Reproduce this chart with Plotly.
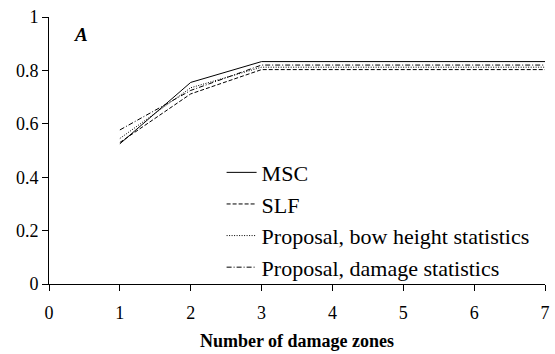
import plotly.graph_objects as go

x_zones = [1, 2, 3, 4, 5, 6, 7]
msc = [0.525, 0.755, 0.833, 0.833, 0.833, 0.833, 0.833]
slf = [0.53, 0.712, 0.803, 0.803, 0.803, 0.803, 0.803]
bow = [0.545, 0.735, 0.812, 0.812, 0.812, 0.812, 0.812]
dmg = [0.577, 0.725, 0.82, 0.82, 0.82, 0.82, 0.82]

names = ["MSC", "SLF", "Proposal, bow height statistics", "Proposal, damage statistics"]
dashes = ["solid", "4px,2px", "1px,1.5px", "5px,2px,1px,2px"]
series = [msc, slf, bow, dmg]

fig = go.Figure()
for n, d, s in zip(names, dashes, series):
    fig.add_trace(go.Scatter(x=x_zones, y=s, name=n, mode="lines",
                             line=dict(color="black", width=1, dash=d)))

font = "Liberation Serif"
fig.update_layout(
    width=555, height=354,
    margin=dict(l=49, r=5, t=17, b=70),
    paper_bgcolor="white", plot_bgcolor="white",
    font=dict(family=font, color="black", size=18),
    showlegend=True,
    legend=dict(x=0.348, y=0.496, xanchor="left", yanchor="top",
                bgcolor="rgba(0,0,0,0)", font=dict(size=22, family=font),
                tracegroupgap=0, itemwidth=30),
    annotations=[dict(x=0.45, y=0.935, xref="x", yref="y", text="<b><i>A</i></b>",
                      showarrow=False, font=dict(size=19, family=font))],
)
fig.update_xaxes(range=[0, 7], tickvals=[0, 1, 2, 3, 4, 5, 6, 7], showline=True,
                 linecolor="black", linewidth=1, ticks="outside", ticklen=6,
                 tickcolor="black", showgrid=False, zeroline=False, ticklabelstandoff=6,
                 title=dict(text="<b>Number of damage zones</b>", font=dict(size=18), standoff=12))
fig.update_yaxes(range=[0, 1], tickvals=[0, 0.2, 0.4, 0.6, 0.8, 1],
                 ticktext=["0", "0.2", "0.4", "0.6", "0.8", "1"], showline=True,
                 linecolor="black", linewidth=1, ticks="outside", ticklen=6,
                 tickcolor="black", showgrid=False, zeroline=False)

fig.write_html("out.html", config={"displayModeBar": False},
               post_script="document.body.style.margin='0px';")
